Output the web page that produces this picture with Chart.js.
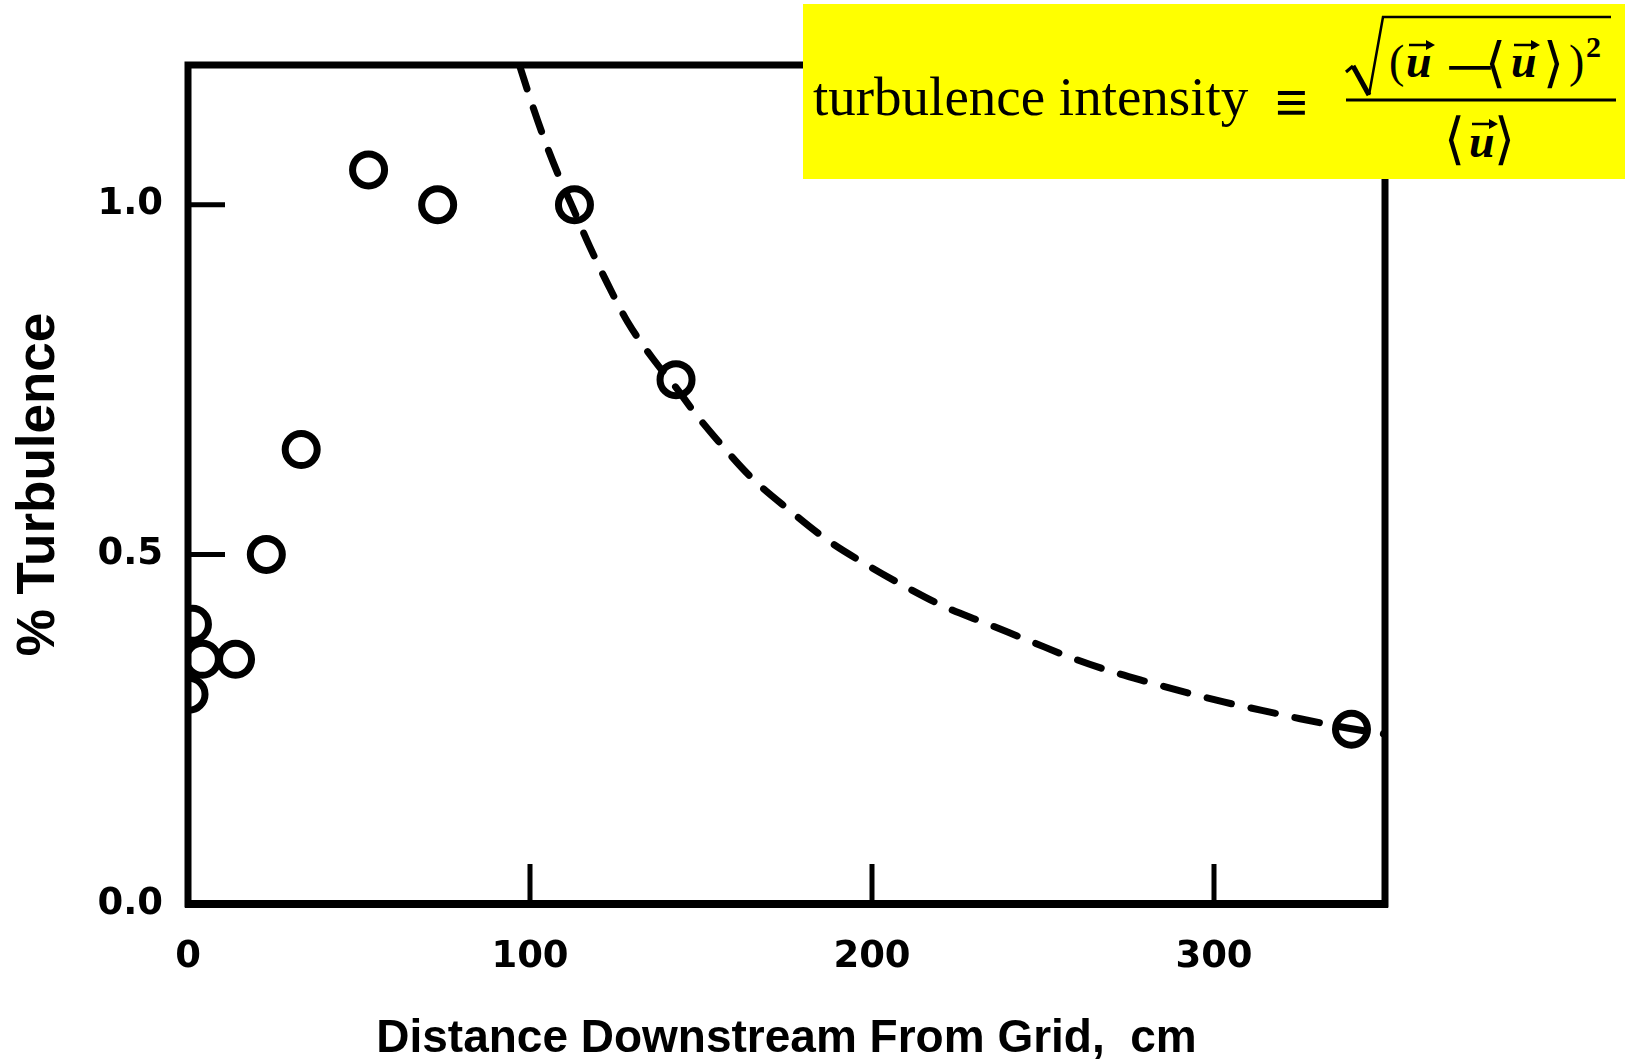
<!DOCTYPE html>
<html>
<head>
<meta charset="utf-8">
<script src="https://cdn.jsdelivr.net/npm/chart.js@4"></script>
<style>
  html, body { margin: 0; padding: 0; background: #fff; }
  #wrap { position: relative; width: 1633px; height: 1063px; }
  #c { position: absolute; left: 0; top: 0; }
  #formula { position: absolute; left: 0; top: 0; pointer-events: none; }
</style>
</head>
<body>
<div id="wrap">
<canvas id="c" width="1633" height="1063"></canvas>
<svg id="formula" width="1633" height="1063" xmlns="http://www.w3.org/2000/svg">
  <rect x="803" y="4" width="822" height="175" fill="#ffff00"/>
  <text x="813" y="115" font-family="Liberation Serif" font-size="55" fill="#000">turbulence intensity</text>
  <text x="1275" y="122" font-family="Liberation Serif" font-size="58" font-weight="bold" fill="#000">≡</text>
  <!-- radical -->
  <path d="M1346,72 L1353,66" stroke="#000" stroke-width="3" fill="none"/>
  <path d="M1353,66 L1369,95" stroke="#000" stroke-width="5" fill="none"/>
  <path d="M1369,95 L1383,17 L1611,17" stroke="#000" stroke-width="2.5" fill="none"/>
  <!-- numerator -->
  <text x="1389" y="77" font-family="Liberation Serif" font-size="46" fill="#000">(</text>
  <text x="1406" y="77" font-family="Liberation Serif" font-size="46" font-style="italic" font-weight="bold" fill="#000">u</text>
  <path d="M1409,45 L1428,45" stroke="#000" stroke-width="2.5"/>
  <path d="M1435,45 L1426,40 L1426,50 Z" fill="#000"/>
  <text transform="translate(1442,82) scale(1.45,1)" x="0" y="0" font-family="DejaVu Sans" font-size="46" fill="#000">−</text>
  <text x="1485" y="81" font-family="DejaVu Serif" font-size="54" textLength="21" lengthAdjust="spacingAndGlyphs" fill="#000">⟨</text>
  <text x="1511" y="77" font-family="Liberation Serif" font-size="46" font-style="italic" font-weight="bold" fill="#000">u</text>
  <path d="M1514,45 L1533,45" stroke="#000" stroke-width="2.5"/>
  <path d="M1540,45 L1531,40 L1531,50 Z" fill="#000"/>
  <text x="1543" y="81" font-family="DejaVu Serif" font-size="54" textLength="21" lengthAdjust="spacingAndGlyphs" fill="#000">⟩</text>
  <text x="1569" y="77" font-family="Liberation Serif" font-size="46" fill="#000">)</text>
  <text x="1586" y="57" font-family="Liberation Serif" font-size="30" font-weight="bold" fill="#000">2</text>
  <!-- fraction bar -->
  <path d="M1346,100 L1616,100" stroke="#000" stroke-width="3"/>
  <!-- denominator -->
  <text x="1444" y="158" font-family="DejaVu Serif" font-size="56" textLength="21" lengthAdjust="spacingAndGlyphs" fill="#000">⟨</text>
  <text x="1469" y="157" font-family="Liberation Serif" font-size="46" font-style="italic" font-weight="bold" fill="#000">u</text>
  <path d="M1472,124 L1491,124" stroke="#000" stroke-width="2.5"/>
  <path d="M1498,124 L1489,119 L1489,129 Z" fill="#000"/>
  <text x="1494" y="158" font-family="DejaVu Serif" font-size="56" textLength="21" lengthAdjust="spacingAndGlyphs" fill="#000">⟩</text>
</svg>
</div>
<script>
// ---- data ----
const pointsX = [0.3, 1.3, 4.2, 13.9, 22.9, 33.1, 52.8, 73.0, 113.0, 142.7, 340.2];
const pointsY = [0.30, 0.40, 0.35, 0.35, 0.50, 0.65, 1.05, 1.00, 1.00, 0.75, 0.25];

const fitX = [96.9, 100.8, 104.7, 108.1, 112.5, 117.4, 122.7, 128.6, 136.4, 142.5, 148.1, 154.0, 164.7, 175.9, 187.1, 198.9, 210.1, 221.3, 232.5, 246.7, 257.9, 269.1, 280.3, 291.5, 302.8, 314.0, 325.2, 339.8, 350.0];
const fitY = [1.200, 1.141, 1.087, 1.045, 0.996, 0.941, 0.887, 0.832, 0.777, 0.740, 0.703, 0.668, 0.610, 0.563, 0.520, 0.484, 0.453, 0.425, 0.403, 0.375, 0.353, 0.334, 0.318, 0.303, 0.289, 0.277, 0.265, 0.251, 0.243];

const xTickValues = [0, 100, 200, 300];
const xTickLabels = ['0', '100', '200', '300'];
const yTickValues = [0, 0.5, 1.0];
const yTickLabels = ['0.0', '0.5', '1.0'];
const xRange = [0, 350];
const yRange = [0, 1.2];
const xTitle = 'Distance Downstream From Grid,  cm';
const yTitle = '% Turbulence';

const pointData = pointsX.map((x, i) => ({ x, y: pointsY[i] }));
const fitData = fitX.map((x, i) => ({ x, y: fitY[i] }));

const frame = {
  id: 'frame',
  afterDatasetsDraw(chart) {
    const { ctx, chartArea: { left, right, top, bottom }, scales: { x, y } } = chart;
    ctx.save();
    ctx.strokeStyle = '#000';
    ctx.lineWidth = 7;
    ctx.lineJoin = 'miter';
    ctx.strokeRect(left, top, right - left, bottom - top);
    ctx.lineWidth = 8;
    ctx.beginPath(); ctx.moveTo(left - 3, bottom); ctx.lineTo(right + 3, bottom); ctx.stroke();
    ctx.lineWidth = 5;
    ctx.beginPath();
    xTickValues.forEach(v => {
      if (v <= xRange[0]) return;
      const px = x.getPixelForValue(v);
      ctx.moveTo(px, bottom); ctx.lineTo(px, bottom - 40);
    });
    yTickValues.forEach(v => {
      if (v <= yRange[0]) return;
      const py = y.getPixelForValue(v);
      ctx.moveTo(left, py); ctx.lineTo(left + 37, py);
    });
    ctx.stroke();
    ctx.restore();
  }
};

new Chart(document.getElementById('c'), {
  type: 'scatter',
  data: {
    datasets: [
      {
        label: 'fit',
        data: fitData,
        showLine: true,
        borderColor: '#000',
        borderWidth: 7,
        borderDash: [25, 20],
        borderCapStyle: 'round',
        pointRadius: 0,
        cubicInterpolationMode: 'monotone',
        fill: false
      },
      {
        label: 'data',
        data: pointData,
        showLine: false,
        pointStyle: 'circle',
        pointRadius: 16,
        pointBorderWidth: 7,
        pointBorderColor: '#000',
        pointBackgroundColor: 'rgba(0,0,0,0)',
        borderColor: '#000',
        backgroundColor: 'rgba(0,0,0,0)'
      }
    ]
  },
  options: {
    responsive: false,
    devicePixelRatio: 1,
    animation: false,
    layout: { padding: { left: 0, top: 65, right: 248, bottom: 0 } },
    plugins: { legend: { display: false }, tooltip: { enabled: false } },
    scales: {
      x: {
        type: 'linear',
        position: 'bottom',
        min: xRange[0], max: xRange[1],
        grid: { display: false, drawTicks: false },
        border: { display: false },
        afterBuildTicks: s => { s.ticks = xTickValues.map(v => ({ value: v })); },
        afterFit: s => { s.height = 159; },
        ticks: {
          color: '#000',
          font: { family: 'DejaVu Sans', weight: 'bold', size: 37 },
          padding: 31,
          maxRotation: 0,
          callback: v => { const i = xTickValues.indexOf(v); return i >= 0 ? xTickLabels[i] : ''; }
        },
        title: {
          display: true,
          text: xTitle,
          color: '#000',
          font: { family: 'Liberation Sans', weight: 'bold', size: 46, lineHeight: 1 },
          padding: { top: 0, bottom: 1 }
        }
      },
      y: {
        type: 'linear',
        min: yRange[0], max: yRange[1],
        grid: { display: false, drawTicks: false },
        border: { display: false },
        afterBuildTicks: s => { s.ticks = yTickValues.map(v => ({ value: v })); },
        afterFit: s => { s.width = 188; },
        ticks: {
          color: '#000',
          font: { family: 'DejaVu Sans', weight: 'bold', size: 37 },
          padding: 25,
          callback: v => { const i = yTickValues.indexOf(v); return i >= 0 ? yTickLabels[i] : ''; }
        },
        title: {
          display: true,
          text: yTitle,
          color: '#000',
          font: { family: 'Liberation Sans', weight: 'bold', size: 53 },
          padding: { top: 8, bottom: 0 }
        }
      }
    }
  },
  plugins: [frame]
});
</script>
</body>
</html>
